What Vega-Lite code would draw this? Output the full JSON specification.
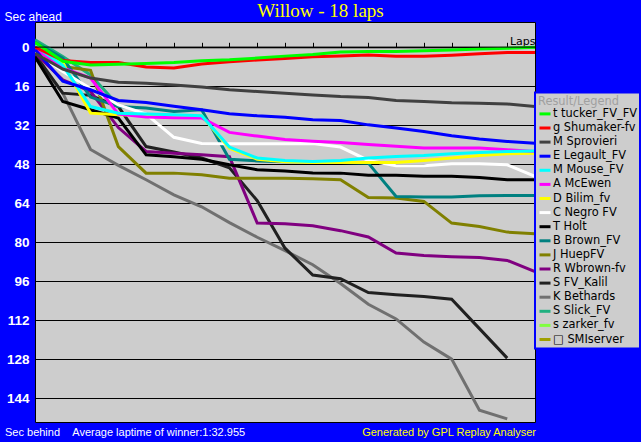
{
  "$schema": "https://vega.github.io/schema/vega-lite/v6.json",
  "width": 500,
  "height": 400,
  "autosize": {"type": "none"},
  "padding": {"left": 35, "top": 22, "right": 106, "bottom": 20},
  "background": "#0000FF",
  "title": {"text": "Willow - 18 laps", "font": "Liberation Serif", "fontSize": 19, "fontWeight": "normal", "color": "#FFFF00", "anchor": "middle", "frame": "group", "dx": 35.5, "offset": -26, "baseline": "alphabetic"},
  "config": {
    "view": {"fill": "#CDCDCD", "stroke": "#000000", "strokeWidth": 1},
    "legend": {"orient": "none", "legendX": 500, "legendY": 70.5, "padding": 3, "fillColor": "#CDCDCD", "strokeColor": "#0000FF", "strokeWidth": 2, "symbolType": "stroke", "symbolSize": 121, "symbolStrokeWidth": 3, "labelFont": "DejaVu Sans", "labelFontSize": 11.4, "labelColor": "#000000", "labelOffset": 1, "labelLimit": 200, "rowPadding": 1.1, "titleFont": "DejaVu Sans", "titleFontSize": 11.4, "titleFontWeight": "normal", "titleColor": "#A0A0A0", "titlePadding": 0}
  },
  "resolve": {"axis": {"x": "independent", "y": "independent"}},
  "layer": [
    {
      "data": {"values": [
        {"d": "s zarker_fv", "lap": 0, "s": -1}, {"d": "s zarker_fv", "lap": 1, "s": 5.8},
        {"d": "S Slick_FV", "lap": 0, "s": -3}, {"d": "S Slick_FV", "lap": 1, "s": 3.9}, {"d": "S Slick_FV", "lap": 2, "s": 11.4}, {"d": "S Slick_FV", "lap": 3, "s": 24},
        {"d": "K Bethards", "lap": 0, "s": 4}, {"d": "K Bethards", "lap": 1, "s": 18.9}, {"d": "K Bethards", "lap": 2, "s": 42}, {"d": "K Bethards", "lap": 3, "s": 48.5}, {"d": "K Bethards", "lap": 4, "s": 54.4}, {"d": "K Bethards", "lap": 5, "s": 60.6}, {"d": "K Bethards", "lap": 6, "s": 65.5}, {"d": "K Bethards", "lap": 7, "s": 72}, {"d": "K Bethards", "lap": 8, "s": 78}, {"d": "K Bethards", "lap": 9, "s": 83.5}, {"d": "K Bethards", "lap": 10, "s": 89.3}, {"d": "K Bethards", "lap": 11, "s": 97}, {"d": "K Bethards", "lap": 12, "s": 105.5}, {"d": "K Bethards", "lap": 13, "s": 111.5}, {"d": "K Bethards", "lap": 14, "s": 121}, {"d": "K Bethards", "lap": 15, "s": 128}, {"d": "K Bethards", "lap": 16, "s": 149}, {"d": "K Bethards", "lap": 17, "s": 152.5},
        {"d": "S FV_Kalil", "lap": 0, "s": 3}, {"d": "S FV_Kalil", "lap": 1, "s": 18.9}, {"d": "S FV_Kalil", "lap": 2, "s": 19.8}, {"d": "S FV_Kalil", "lap": 3, "s": 24.4}, {"d": "S FV_Kalil", "lap": 4, "s": 40.8}, {"d": "S FV_Kalil", "lap": 5, "s": 43}, {"d": "S FV_Kalil", "lap": 6, "s": 45.5}, {"d": "S FV_Kalil", "lap": 7, "s": 49.5}, {"d": "S FV_Kalil", "lap": 8, "s": 63}, {"d": "S FV_Kalil", "lap": 9, "s": 82.5}, {"d": "S FV_Kalil", "lap": 10, "s": 93.5}, {"d": "S FV_Kalil", "lap": 11, "s": 95}, {"d": "S FV_Kalil", "lap": 12, "s": 100.7}, {"d": "S FV_Kalil", "lap": 13, "s": 101.6}, {"d": "S FV_Kalil", "lap": 14, "s": 102.3}, {"d": "S FV_Kalil", "lap": 15, "s": 103.4}, {"d": "S FV_Kalil", "lap": 16, "s": 115.5}, {"d": "S FV_Kalil", "lap": 17, "s": 127.6},
        {"d": "R Wbrown-fv", "lap": 0, "s": 2.5}, {"d": "R Wbrown-fv", "lap": 1, "s": 13.4}, {"d": "R Wbrown-fv", "lap": 2, "s": 18.2}, {"d": "R Wbrown-fv", "lap": 3, "s": 33}, {"d": "R Wbrown-fv", "lap": 4, "s": 42.8}, {"d": "R Wbrown-fv", "lap": 5, "s": 43.5}, {"d": "R Wbrown-fv", "lap": 6, "s": 44.2}, {"d": "R Wbrown-fv", "lap": 7, "s": 45}, {"d": "R Wbrown-fv", "lap": 8, "s": 72.2}, {"d": "R Wbrown-fv", "lap": 9, "s": 72.5}, {"d": "R Wbrown-fv", "lap": 10, "s": 73.3}, {"d": "R Wbrown-fv", "lap": 11, "s": 75.3}, {"d": "R Wbrown-fv", "lap": 12, "s": 77.9}, {"d": "R Wbrown-fv", "lap": 13, "s": 84.5}, {"d": "R Wbrown-fv", "lap": 14, "s": 85.5}, {"d": "R Wbrown-fv", "lap": 15, "s": 86}, {"d": "R Wbrown-fv", "lap": 16, "s": 86.3}, {"d": "R Wbrown-fv", "lap": 17, "s": 87.5}, {"d": "R Wbrown-fv", "lap": 18, "s": 92.1},
        {"d": "J HuepFV", "lap": 0, "s": 1}, {"d": "J HuepFV", "lap": 1, "s": 8}, {"d": "J HuepFV", "lap": 2, "s": 9.5}, {"d": "J HuepFV", "lap": 3, "s": 40.8}, {"d": "J HuepFV", "lap": 4, "s": 51.7}, {"d": "J HuepFV", "lap": 5, "s": 51.7}, {"d": "J HuepFV", "lap": 6, "s": 52.4}, {"d": "J HuepFV", "lap": 7, "s": 53.8}, {"d": "J HuepFV", "lap": 8, "s": 53.8}, {"d": "J HuepFV", "lap": 9, "s": 53.8}, {"d": "J HuepFV", "lap": 10, "s": 54}, {"d": "J HuepFV", "lap": 11, "s": 54.4}, {"d": "J HuepFV", "lap": 12, "s": 61.7}, {"d": "J HuepFV", "lap": 13, "s": 61.9}, {"d": "J HuepFV", "lap": 14, "s": 63.3}, {"d": "J HuepFV", "lap": 15, "s": 72.2}, {"d": "J HuepFV", "lap": 16, "s": 73.6}, {"d": "J HuepFV", "lap": 17, "s": 75.9}, {"d": "J HuepFV", "lap": 18, "s": 76.6},
        {"d": "B Brown_FV", "lap": 0, "s": -2}, {"d": "B Brown_FV", "lap": 1, "s": 4.5}, {"d": "B Brown_FV", "lap": 2, "s": 20.5}, {"d": "B Brown_FV", "lap": 3, "s": 24.4}, {"d": "B Brown_FV", "lap": 4, "s": 25}, {"d": "B Brown_FV", "lap": 5, "s": 26.4}, {"d": "B Brown_FV", "lap": 6, "s": 25.7}, {"d": "B Brown_FV", "lap": 7, "s": 46}, {"d": "B Brown_FV", "lap": 8, "s": 46.7}, {"d": "B Brown_FV", "lap": 9, "s": 47}, {"d": "B Brown_FV", "lap": 10, "s": 47}, {"d": "B Brown_FV", "lap": 11, "s": 47.3}, {"d": "B Brown_FV", "lap": 12, "s": 47.6}, {"d": "B Brown_FV", "lap": 13, "s": 61.3}, {"d": "B Brown_FV", "lap": 14, "s": 61.5}, {"d": "B Brown_FV", "lap": 15, "s": 61.5}, {"d": "B Brown_FV", "lap": 16, "s": 61}, {"d": "B Brown_FV", "lap": 17, "s": 60.9}, {"d": "B Brown_FV", "lap": 18, "s": 60.9},
        {"d": "T Holt", "lap": 0, "s": 4}, {"d": "T Holt", "lap": 1, "s": 22.3}, {"d": "T Holt", "lap": 2, "s": 25.7}, {"d": "T Holt", "lap": 3, "s": 29.1}, {"d": "T Holt", "lap": 4, "s": 44.2}, {"d": "T Holt", "lap": 5, "s": 45}, {"d": "T Holt", "lap": 6, "s": 46}, {"d": "T Holt", "lap": 7, "s": 48.3}, {"d": "T Holt", "lap": 8, "s": 50.3}, {"d": "T Holt", "lap": 9, "s": 50.8}, {"d": "T Holt", "lap": 10, "s": 51.6}, {"d": "T Holt", "lap": 11, "s": 51.7}, {"d": "T Holt", "lap": 12, "s": 52.6}, {"d": "T Holt", "lap": 13, "s": 52.6}, {"d": "T Holt", "lap": 14, "s": 53}, {"d": "T Holt", "lap": 15, "s": 53}, {"d": "T Holt", "lap": 16, "s": 53.5}, {"d": "T Holt", "lap": 17, "s": 54.4}, {"d": "T Holt", "lap": 18, "s": 54.4},
        {"d": "C Negro FV", "lap": 0, "s": 2}, {"d": "C Negro FV", "lap": 1, "s": 10}, {"d": "C Negro FV", "lap": 2, "s": 17}, {"d": "C Negro FV", "lap": 3, "s": 23.7}, {"d": "C Negro FV", "lap": 4, "s": 27.5}, {"d": "C Negro FV", "lap": 5, "s": 37}, {"d": "C Negro FV", "lap": 6, "s": 39.5}, {"d": "C Negro FV", "lap": 7, "s": 39.6}, {"d": "C Negro FV", "lap": 8, "s": 39.6}, {"d": "C Negro FV", "lap": 9, "s": 39.6}, {"d": "C Negro FV", "lap": 10, "s": 39.5}, {"d": "C Negro FV", "lap": 11, "s": 41}, {"d": "C Negro FV", "lap": 12, "s": 46.5}, {"d": "C Negro FV", "lap": 13, "s": 48.7}, {"d": "C Negro FV", "lap": 14, "s": 48.7}, {"d": "C Negro FV", "lap": 15, "s": 47.9}, {"d": "C Negro FV", "lap": 16, "s": 47.9}, {"d": "C Negro FV", "lap": 17, "s": 48.3}, {"d": "C Negro FV", "lap": 18, "s": 53},
        {"d": "D Bilim_fv", "lap": 0, "s": 0}, {"d": "D Bilim_fv", "lap": 1, "s": 6.5}, {"d": "D Bilim_fv", "lap": 2, "s": 27.1}, {"d": "D Bilim_fv", "lap": 3, "s": 27.8}, {"d": "D Bilim_fv", "lap": 4, "s": 28}, {"d": "D Bilim_fv", "lap": 5, "s": 28}, {"d": "D Bilim_fv", "lap": 6, "s": 28.2}, {"d": "D Bilim_fv", "lap": 7, "s": 41.5}, {"d": "D Bilim_fv", "lap": 8, "s": 46}, {"d": "D Bilim_fv", "lap": 9, "s": 47}, {"d": "D Bilim_fv", "lap": 10, "s": 47.3}, {"d": "D Bilim_fv", "lap": 11, "s": 47.3}, {"d": "D Bilim_fv", "lap": 12, "s": 47.3}, {"d": "D Bilim_fv", "lap": 13, "s": 47.3}, {"d": "D Bilim_fv", "lap": 14, "s": 46.5}, {"d": "D Bilim_fv", "lap": 15, "s": 45.5}, {"d": "D Bilim_fv", "lap": 16, "s": 44.5}, {"d": "D Bilim_fv", "lap": 17, "s": 43.8}, {"d": "D Bilim_fv", "lap": 18, "s": 43.5},
        {"d": "A McEwen", "lap": 0, "s": 0.5}, {"d": "A McEwen", "lap": 1, "s": 8.5}, {"d": "A McEwen", "lap": 2, "s": 12.7}, {"d": "A McEwen", "lap": 3, "s": 27.5}, {"d": "A McEwen", "lap": 4, "s": 28.7}, {"d": "A McEwen", "lap": 5, "s": 29}, {"d": "A McEwen", "lap": 6, "s": 29.1}, {"d": "A McEwen", "lap": 7, "s": 35}, {"d": "A McEwen", "lap": 8, "s": 36.5}, {"d": "A McEwen", "lap": 9, "s": 37.9}, {"d": "A McEwen", "lap": 10, "s": 38.6}, {"d": "A McEwen", "lap": 11, "s": 39.1}, {"d": "A McEwen", "lap": 12, "s": 40}, {"d": "A McEwen", "lap": 13, "s": 40.7}, {"d": "A McEwen", "lap": 14, "s": 41.4}, {"d": "A McEwen", "lap": 15, "s": 41.4}, {"d": "A McEwen", "lap": 16, "s": 41.4}, {"d": "A McEwen", "lap": 17, "s": 42.1}, {"d": "A McEwen", "lap": 18, "s": 42.8},
        {"d": "M Mouse_FV", "lap": 0, "s": -0.5}, {"d": "M Mouse_FV", "lap": 1, "s": 7.5}, {"d": "M Mouse_FV", "lap": 2, "s": 24.4}, {"d": "M Mouse_FV", "lap": 3, "s": 27.1}, {"d": "M Mouse_FV", "lap": 4, "s": 27.4}, {"d": "M Mouse_FV", "lap": 5, "s": 27.8}, {"d": "M Mouse_FV", "lap": 6, "s": 28.2}, {"d": "M Mouse_FV", "lap": 7, "s": 41}, {"d": "M Mouse_FV", "lap": 8, "s": 45.5}, {"d": "M Mouse_FV", "lap": 9, "s": 46.5}, {"d": "M Mouse_FV", "lap": 10, "s": 46.9}, {"d": "M Mouse_FV", "lap": 11, "s": 46.5}, {"d": "M Mouse_FV", "lap": 12, "s": 45.5}, {"d": "M Mouse_FV", "lap": 13, "s": 44.9}, {"d": "M Mouse_FV", "lap": 14, "s": 44.5}, {"d": "M Mouse_FV", "lap": 15, "s": 43.8}, {"d": "M Mouse_FV", "lap": 16, "s": 43.2}, {"d": "M Mouse_FV", "lap": 17, "s": 42.8}, {"d": "M Mouse_FV", "lap": 18, "s": 42.6},
        {"d": "E Legault_FV", "lap": 0, "s": 1}, {"d": "E Legault_FV", "lap": 1, "s": 14}, {"d": "E Legault_FV", "lap": 2, "s": 17.5}, {"d": "E Legault_FV", "lap": 3, "s": 21.9}, {"d": "E Legault_FV", "lap": 4, "s": 22.7}, {"d": "E Legault_FV", "lap": 5, "s": 24.3}, {"d": "E Legault_FV", "lap": 6, "s": 25.7}, {"d": "E Legault_FV", "lap": 7, "s": 27.3}, {"d": "E Legault_FV", "lap": 8, "s": 28.2}, {"d": "E Legault_FV", "lap": 9, "s": 28.8}, {"d": "E Legault_FV", "lap": 10, "s": 29.8}, {"d": "E Legault_FV", "lap": 11, "s": 30.1}, {"d": "E Legault_FV", "lap": 12, "s": 31.9}, {"d": "E Legault_FV", "lap": 13, "s": 33.2}, {"d": "E Legault_FV", "lap": 14, "s": 34.6}, {"d": "E Legault_FV", "lap": 15, "s": 36.4}, {"d": "E Legault_FV", "lap": 16, "s": 37.7}, {"d": "E Legault_FV", "lap": 17, "s": 38.7}, {"d": "E Legault_FV", "lap": 18, "s": 39.4},
        {"d": "M Sprovieri", "lap": 0, "s": 2.5}, {"d": "M Sprovieri", "lap": 1, "s": 9}, {"d": "M Sprovieri", "lap": 2, "s": 12.7}, {"d": "M Sprovieri", "lap": 3, "s": 14.4}, {"d": "M Sprovieri", "lap": 4, "s": 14.8}, {"d": "M Sprovieri", "lap": 5, "s": 15.5}, {"d": "M Sprovieri", "lap": 6, "s": 16.4}, {"d": "M Sprovieri", "lap": 7, "s": 17.5}, {"d": "M Sprovieri", "lap": 8, "s": 18.2}, {"d": "M Sprovieri", "lap": 9, "s": 18.9}, {"d": "M Sprovieri", "lap": 10, "s": 19.6}, {"d": "M Sprovieri", "lap": 11, "s": 20.3}, {"d": "M Sprovieri", "lap": 12, "s": 20.7}, {"d": "M Sprovieri", "lap": 13, "s": 21.9}, {"d": "M Sprovieri", "lap": 14, "s": 22.3}, {"d": "M Sprovieri", "lap": 15, "s": 22.8}, {"d": "M Sprovieri", "lap": 16, "s": 23}, {"d": "M Sprovieri", "lap": 17, "s": 23.3}, {"d": "M Sprovieri", "lap": 18, "s": 24.4},
        {"d": "g Shumaker-fv", "lap": 0, "s": 0}, {"d": "g Shumaker-fv", "lap": 1, "s": 5.5}, {"d": "g Shumaker-fv", "lap": 2, "s": 6.3}, {"d": "g Shumaker-fv", "lap": 3, "s": 6.3}, {"d": "g Shumaker-fv", "lap": 4, "s": 8.2}, {"d": "g Shumaker-fv", "lap": 5, "s": 8.6}, {"d": "g Shumaker-fv", "lap": 6, "s": 6.9}, {"d": "g Shumaker-fv", "lap": 7, "s": 6.0}, {"d": "g Shumaker-fv", "lap": 8, "s": 5.3}, {"d": "g Shumaker-fv", "lap": 9, "s": 4.7}, {"d": "g Shumaker-fv", "lap": 10, "s": 4.0}, {"d": "g Shumaker-fv", "lap": 11, "s": 3.6}, {"d": "g Shumaker-fv", "lap": 12, "s": 3.2}, {"d": "g Shumaker-fv", "lap": 13, "s": 3.8}, {"d": "g Shumaker-fv", "lap": 14, "s": 3.8}, {"d": "g Shumaker-fv", "lap": 15, "s": 3.3}, {"d": "g Shumaker-fv", "lap": 16, "s": 2.7}, {"d": "g Shumaker-fv", "lap": 17, "s": 2.2}, {"d": "g Shumaker-fv", "lap": 18, "s": 2.2},
        {"d": "t tucker_FV_FV", "lap": 0, "s": -2}, {"d": "t tucker_FV_FV", "lap": 1, "s": 5.8}, {"d": "t tucker_FV_FV", "lap": 2, "s": 7.3}, {"d": "t tucker_FV_FV", "lap": 3, "s": 7.0}, {"d": "t tucker_FV_FV", "lap": 4, "s": 6.7}, {"d": "t tucker_FV_FV", "lap": 5, "s": 6.3}, {"d": "t tucker_FV_FV", "lap": 6, "s": 5.6}, {"d": "t tucker_FV_FV", "lap": 7, "s": 5.2}, {"d": "t tucker_FV_FV", "lap": 8, "s": 4.5}, {"d": "t tucker_FV_FV", "lap": 9, "s": 3.7}, {"d": "t tucker_FV_FV", "lap": 10, "s": 3.0}, {"d": "t tucker_FV_FV", "lap": 11, "s": 2.0}, {"d": "t tucker_FV_FV", "lap": 12, "s": 1.8}, {"d": "t tucker_FV_FV", "lap": 13, "s": 1.8}, {"d": "t tucker_FV_FV", "lap": 14, "s": 1.5}, {"d": "t tucker_FV_FV", "lap": 15, "s": 1.2}, {"d": "t tucker_FV_FV", "lap": 16, "s": 0.8}, {"d": "t tucker_FV_FV", "lap": 17, "s": 0.5}, {"d": "t tucker_FV_FV", "lap": 18, "s": 0.1}
      ]},
      "mark": {"type": "line", "strokeWidth": 3, "clip": true},
      "encoding": {
        "x": {"field": "lap", "type": "quantitative", "scale": {"domain": [0, 18], "nice": false, "zero": false},
          "axis": {"orient": "top", "offset": -25.3, "values": [0,1,2,3,4,5,6,7,8,9,10,11,12,13,14,15,16,17,18], "labels": false, "domain": true, "domainColor": "#000000", "domainWidth": 1, "ticks": true, "tickSize": 5, "tickColor": "#000000", "tickWidth": 1, "grid": false,
            "title": "Laps", "titleX": 500, "titleY": -3, "titleAlign": "right", "titleBaseline": "alphabetic", "titleColor": "#000000", "titleFont": "DejaVu Sans", "titleFontSize": 11, "titleFontWeight": "normal"}},
        "y": {"field": "s", "type": "quantitative", "scale": {"domain": [-10.3, 153.8], "reverse": true, "nice": false, "zero": false},
          "axis": {"orient": "left", "values": [0,16,32,48,64,80,96,112,128,144], "grid": true, "gridColor": "#000000", "gridWidth": 1, "gridOpacity": 1, "domain": false, "ticks": false, "labelColor": "#FFFFFF", "labelFont": "Liberation Sans", "labelFontSize": 13.5, "labelFontWeight": "bold", "labelPadding": 6,
            "title": "Sec ahead", "titleAngle": 0, "titleX": -31, "titleY": -2, "titleAlign": "left", "titleBaseline": "alphabetic", "titleColor": "#FFFFFF", "titleFont": "Liberation Sans", "titleFontSize": 12, "titleFontWeight": "normal"}},
        "color": {"field": "d", "type": "nominal",
          "scale": {"domain": ["t tucker_FV_FV", "g Shumaker-fv", "M Sprovieri", "E Legault_FV", "M Mouse_FV", "A McEwen", "D Bilim_fv", "C Negro FV", "T Holt", "B Brown_FV", "J HuepFV", "R Wbrown-fv", "S FV_Kalil", "K Bethards", "S Slick_FV", "s zarker_fv", "□ SMIserver"],
            "range": ["#00FF00", "#FF0000", "#404040", "#0000FF", "#00FFFF", "#FF00FF", "#FFFF00", "#FFFFFF", "#000000", "#008080", "#808000", "#800080", "#202020", "#707070", "#20B080", "#80FF40", "#A0A000"]},
          "legend": {"title": "Result/Legend"}}
      }
    },
    {
      "data": {"values": [{}]},
      "mark": {"type": "rule", "color": "#000000", "strokeWidth": 1},
      "encoding": {
        "x": {"datum": 0, "type": "quantitative",
          "axis": {"orient": "bottom", "labels": false, "ticks": false, "domain": false, "grid": false,
            "title": "Sec behind\u00a0\u00a0\u00a0\u00a0Average laptime of winner:1:32.955", "titleX": -30.5, "titleY": 13, "titleAlign": "left", "titleBaseline": "alphabetic", "titleColor": "#FFFFFF", "titleFont": "Liberation Sans", "titleFontSize": 11, "titleFontWeight": "normal"}},
        "x2": {"datum": 18},
        "y": {"datum": 0, "type": "quantitative",
          "axis": {"orient": "right", "labels": false, "ticks": false, "domain": false, "grid": false,
            "title": "Generated by GPL Replay Analyser", "titleAngle": 0, "titleX": 0.5, "titleY": 413, "titleAlign": "right", "titleBaseline": "alphabetic", "titleColor": "#FFFF00", "titleFont": "Liberation Sans", "titleFontSize": 11, "titleFontWeight": "normal"}}
      }
    }
  ]
}
